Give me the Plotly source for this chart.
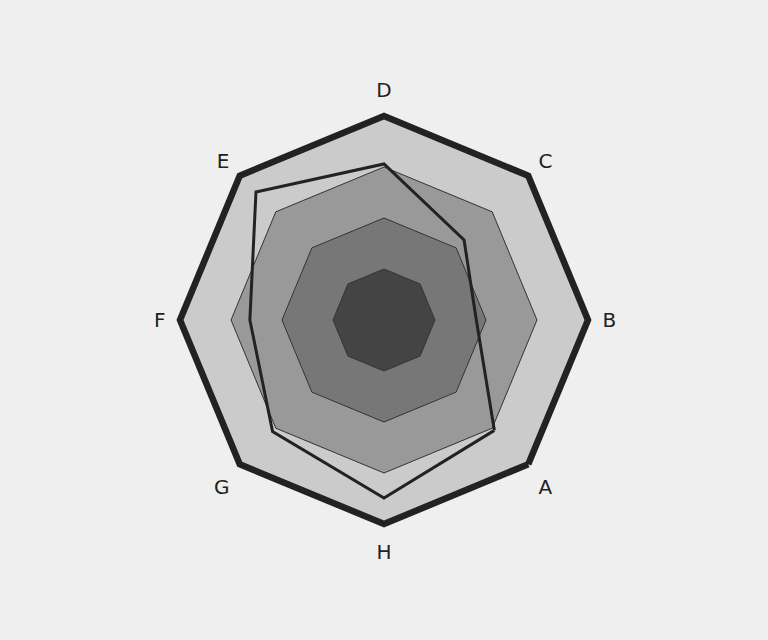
import plotly.graph_objects as go

categories = ["A", "B", "C", "D", "E", "F", "G", "H"]
values = [3.06, 1.81, 2.22, 3.06, 3.55, 2.63, 3.09, 3.49]
levels = [4, 3, 2, 1]
level_colors = ["#cbcbcb", "#999999", "#777777", "#444444"]
level_line_widths = [6.5, 1, 1, 1]
level_line_colors = ["#222222", "#333333", "#333333", "#333333"]
r_max = 4.1

fig = go.Figure()
theta_closed = categories + [categories[0]]
for lvl, col, lw, lc in zip(levels, level_colors, level_line_widths, level_line_colors):
    fig.add_trace(go.Scatterpolar(
        r=[lvl] * (len(categories) + 1), theta=theta_closed,
        mode="lines", fill="toself", fillcolor=col, cliponaxis=False,
        line=dict(color=lc, width=lw), hoverinfo="skip", showlegend=False))

fig.add_trace(go.Scatterpolar(
    r=values + [values[0]], theta=theta_closed, mode="lines", cliponaxis=False,
    line=dict(color="#222222", width=3), showlegend=False))

W, H = 768, 640
cx, cy = 384, 320
R = 204 * r_max / 4
fig.update_layout(
    width=W, height=H,
    paper_bgcolor="#efefef", plot_bgcolor="#efefef",
    margin=dict(l=0, r=0, t=0, b=0),
    font=dict(family="DejaVu Sans", size=20, color="#222222"),
    polar=dict(
        domain=dict(x=[(cx - R) / W, (cx + R) / W], y=[(H - cy - R) / H, (H - cy + R) / H]),
        bgcolor="rgba(0,0,0,0)",
        gridshape="linear",
        radialaxis=dict(range=[0, r_max], visible=False, showgrid=False),
        angularaxis=dict(
            type="category", categoryarray=categories, rotation=-45,
            direction="counterclockwise", showgrid=False, showline=False,
            ticks="outside", ticklen=5, tickcolor="rgba(0,0,0,0)",
            tickfont=dict(size=20, color="#222222")),
    ),
)
fig.write_html("out.html", config={"displayModeBar": False},
               post_script="document.body.style.margin='0';document.body.style.background='#efefef';")
